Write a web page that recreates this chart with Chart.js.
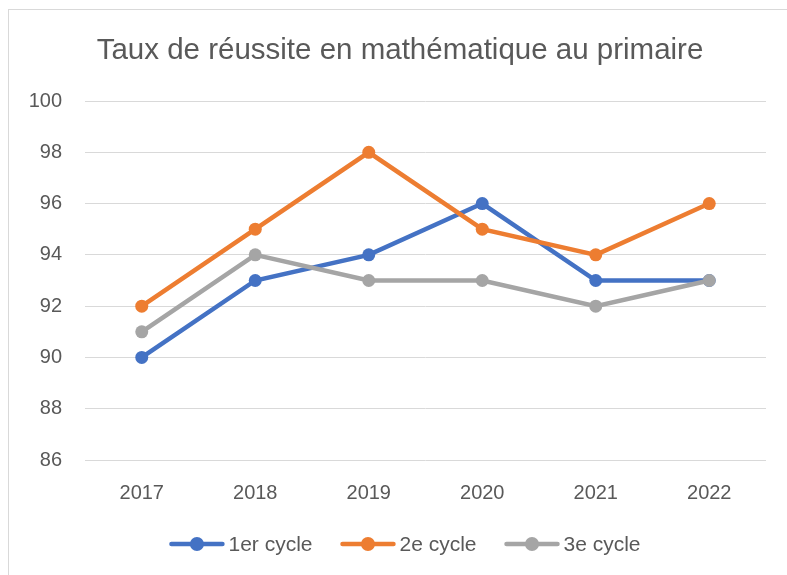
<html>
<head>
  <title>Taux de réussite en mathématique au primaire</title>
  <style>
    html, body { margin: 0; background: #fff; overflow: hidden; }
    .frame {
      position: absolute;
      left: 8px;
      top: 9px;
      width: 800px;
      height: 600px;
      border-left: 1.5px solid #d9d9d9;
      border-top: 1.5px solid #d9d9d9;
    }
    #chart { position: absolute; left: 0; top: 0; }
  </style>
  <script src="https://cdn.jsdelivr.net/npm/chart.js@4.4.0/dist/chart.umd.min.js"></script>
</head>
<body>
  <div class="frame"></div>
  <canvas id="chart" width="787" height="575"></canvas>
  <script type="text/javascript">
    var years = ['2017', '2018', '2019', '2020', '2021', '2022'];
    var cycle1 = [90, 93, 94, 96, 93, 93];
    var cycle2 = [92, 95, 98, 95, 94, 96];
    var cycle3 = [91, 94, 93, 93, 92, 93];
    var seriesNames = ['1er cycle', '2e cycle', '3e cycle'];
    var colors = ['#4472C4', '#ED7D31', '#A5A5A5'];
    var titleText = 'Taux de réussite en mathématique au primaire';

    var FONT = '"Liberation Sans", Arial, sans-serif';
    var textColor = '#595959';

    function makeSeries(label, data, color, order) {
      return {
        label: label,
        data: data,
        borderColor: color,
        backgroundColor: color,
        borderWidth: 4.5,
        pointRadius: 6.5,
        pointHoverRadius: 6.5,
        pointBorderWidth: 0,
        tension: 0,
        order: order
      };
    }

    // title and legend drawn by hand, like the excel original
    var decor = {
      id: 'decor',
      afterDraw: function(chart) {
        var ctx = chart.ctx;
        ctx.save();
        ctx.fillStyle = textColor;
        ctx.font = '29.5px ' + FONT;
        ctx.textAlign = 'center';
        ctx.textBaseline = 'middle';
        ctx.fillText(titleText, 400, 51);

        ctx.font = '21px ' + FONT;
        ctx.textAlign = 'left';
        var lineLen = 55, gap = 4, itemGap = 28;
        var total = 0;
        var widths = seriesNames.map(function(n) { return ctx.measureText(n).width; });
        widths.forEach(function(w, i) {
          total += lineLen + gap + w + (i ? itemGap : 0);
        });
        var x = 405 - total / 2;
        var y = 544;
        for (var i = 0; i < seriesNames.length; i++) {
          ctx.strokeStyle = colors[i];
          ctx.fillStyle = colors[i];
          ctx.lineWidth = 4.5;
          ctx.lineCap = 'round';
          ctx.beginPath();
          ctx.moveTo(x + 2, y);
          ctx.lineTo(x + lineLen - 2, y);
          ctx.stroke();
          ctx.beginPath();
          ctx.arc(x + lineLen / 2, y, 7, 0, Math.PI * 2);
          ctx.fill();
          ctx.fillStyle = textColor;
          ctx.fillText(seriesNames[i], x + lineLen + gap, y + 1);
          x += lineLen + gap + widths[i] + itemGap;
        }
        ctx.restore();
      }
    };

    var chart = new Chart(document.getElementById('chart').getContext('2d'), {
      type: 'line',
      data: {
        labels: years,
        datasets: [
          makeSeries(seriesNames[0], cycle1, colors[0], 3),
          makeSeries(seriesNames[1], cycle2, colors[1], 2),
          makeSeries(seriesNames[2], cycle3, colors[2], 1)
        ]
      },
      options: {
        responsive: false,
        animation: false,
        layout: { padding: { top: 101, right: 21, bottom: 0, left: 0 } },
        plugins: {
          legend: { display: false },
          title: { display: false },
          tooltip: { enabled: false }
        },
        scales: {
          x: {
            offset: true,
            grid: { display: false },
            border: { display: false },
            ticks: { color: textColor, font: { family: FONT, size: 20 }, padding: 13 },
            afterFit: function(scale) { scale.height = 115; }
          },
          y: {
            min: 86,
            max: 100,
            grid: { color: '#d9d9d9', lineWidth: 1, drawTicks: false },
            border: { display: false },
            ticks: { stepSize: 2, color: textColor, font: { family: FONT, size: 20 }, padding: 23 },
            afterFit: function(scale) { scale.width = 85; }
          }
        }
      },
      plugins: [decor]
    });
  </script>
</body>
</html>
